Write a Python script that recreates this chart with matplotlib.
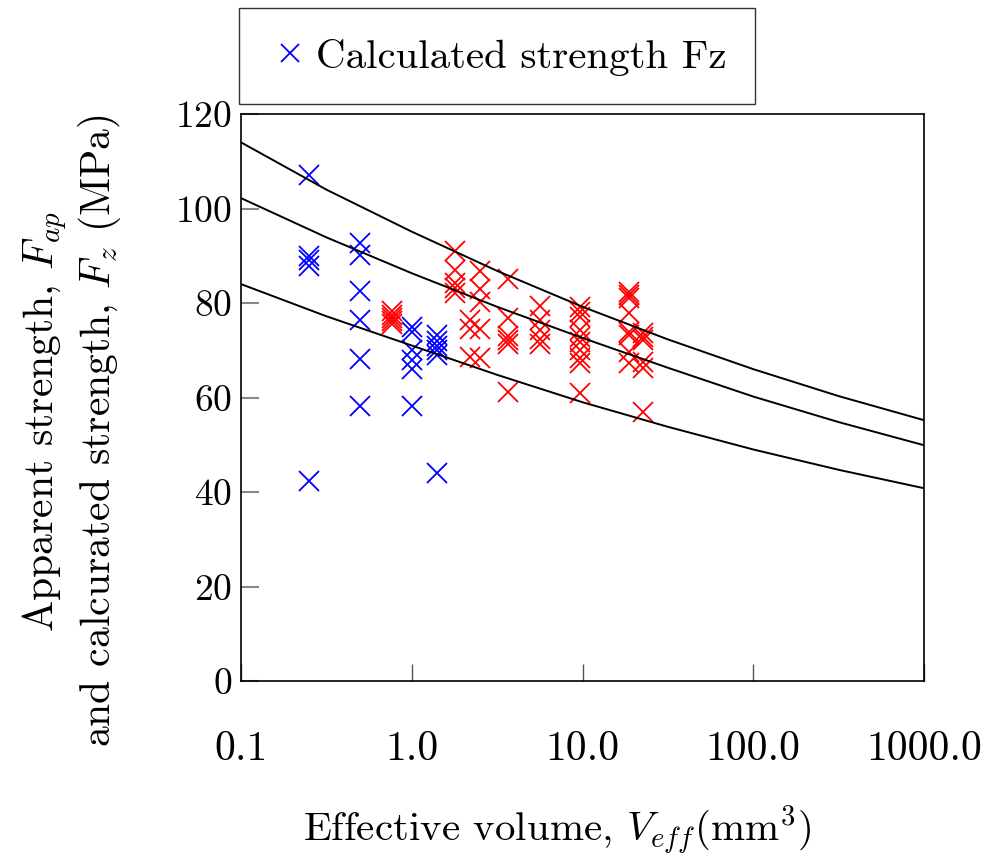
import matplotlib
matplotlib.use("Agg")
import matplotlib.pyplot as plt
from matplotlib.patches import Rectangle

plt.rcParams['font.family'] = ['cmr10', 'DejaVu Serif']
plt.rcParams['mathtext.fontset'] = 'cm'
plt.rcParams['axes.unicode_minus'] = False
plt.rcParams['axes.formatter.use_mathtext'] = True

# ---- data ----
blue_x = [0.25, 0.25, 0.25, 0.25, 0.25,
          0.5, 0.5, 0.5, 0.5, 0.5, 0.5,
          1.0, 1.0, 1.0, 1.0, 1.0, 1.0,
          1.4, 1.4, 1.4, 1.4, 1.4, 1.4]
blue_y = [107.1, 90.0, 89.0, 87.8, 42.3,
          92.8, 90.2, 82.6, 76.4, 68.1, 58.1,
          75.0, 73.8, 70.0, 68.0, 66.0, 58.2,
          73.3, 72.0, 71.0, 70.0, 69.0, 44.0]

red_x = [0.77] * 5 + [1.79] * 5 + [2.2] * 3 + [2.5] * 5 + [3.68] * 6 + \
        [5.64] * 5 + [9.67] * 10 + [18.6] * 8 + [22.7] * 6
red_y = [78.3, 77.5, 76.8, 76.2, 75.6,
         90.9, 87.0, 84.2, 83.1, 82.2,
         76.4, 74.6, 68.6,
         86.8, 82.9, 80.3, 74.4, 68.4,
         85.0, 76.8, 73.0, 72.2, 71.4, 61.2,
         79.4, 76.5, 74.2, 72.3, 71.3,
         79.2, 78.2, 77.1, 74.3, 72.9, 71.8, 70.1, 68.3, 67.2, 60.9,
         82.4, 81.7, 81.0, 77.8, 73.9, 73.2, 69.7, 67.4,
         73.6, 72.9, 72.2, 67.6, 66.2, 56.9]

curve_v = [0.1, 0.316, 1.0, 3.16, 10.0, 31.6, 100.0, 316.0, 1000.0]
curve_upper = [114.0, 104.0, 95.1, 86.8, 79.2, 72.3, 66.0, 60.3, 55.2]
curve_middle = [102.2, 93.9, 86.3, 79.2, 72.6, 66.3, 60.2, 54.8, 49.9]
curve_lower = [84.0, 77.2, 71.0, 64.8, 59.0, 53.8, 49.0, 44.7, 40.8]

x_ticks = [0.1, 1.0, 10.0, 100.0, 1000.0]
x_tick_labels = ["0.1", "1.0", "10.0", "100.0", "1000.0"]
y_ticks = [0, 20, 40, 60, 80, 100, 120]

W, H = 986, 859
fig = plt.figure(figsize=(W / 100, H / 100), dpi=100)
ax = fig.add_axes([241 / W, 1 - 681 / H, (924 - 241) / W, (681 - 114) / H])

ax.plot(blue_x, blue_y, linestyle='none', marker='x', color='#0000ff',
        markersize=14, markeredgewidth=1.3, zorder=2,
        label='Calculated strength Fz')
ax.plot(red_x, red_y, linestyle='none', marker='x', color='#ff0000',
        markersize=14, markeredgewidth=1.3, zorder=2)
for cy in (curve_upper, curve_middle, curve_lower):
    ax.plot(curve_v, cy, color='black', linewidth=1.4, zorder=3)

ax.set_xscale('log')
ax.set_xlim(0.1, 1000)
ax.set_ylim(0, 120)
ax.set_xticks(x_ticks)
ax.set_xticklabels(x_tick_labels)
ax.minorticks_off()
ax.set_yticks(y_ticks)
ax.tick_params(axis='x', direction='in', length=12, width=1, color='#555555',
               labelsize=30, pad=36)
ax.tick_params(axis='y', direction='in', length=13, width=1.5, color='#888888',
               labelsize=27, pad=6.5)
for s in ax.spines.values():
    s.set_linewidth(1.2)
    s.set_color('black')

fig.text(557 / W, 1 - 830 / H, r"Effective volume, $V_{eff}$(mm$^3$)",
         fontsize=29.5, ha='center', va='center')
fig.text(45 / W, 1 - 422 / H, r"Apparent strength, $F_{ap}$",
         fontsize=30, ha='center', va='center', rotation=90)
fig.text(100 / W, 1 - 431 / H, r"and calcurated strength, $F_z$ (MPa)",
         fontsize=30, ha='center', va='center', rotation=90)

# legend box
fig.patches.append(Rectangle((239 / W, 1 - 104 / H), (755 - 239) / W, (104 - 8) / H,
                             transform=fig.transFigure, fill=False,
                             edgecolor='#333333', linewidth=1.0))
leg = fig.legend(loc='center left', bbox_to_anchor=(278 / W, 1 - 57 / H), frameon=False,
                 fontsize=29.5, handlelength=0.6, handletextpad=0.33, borderpad=0,
                 borderaxespad=0, markerscale=0.95)

fig.savefig("out.png", dpi=100)
